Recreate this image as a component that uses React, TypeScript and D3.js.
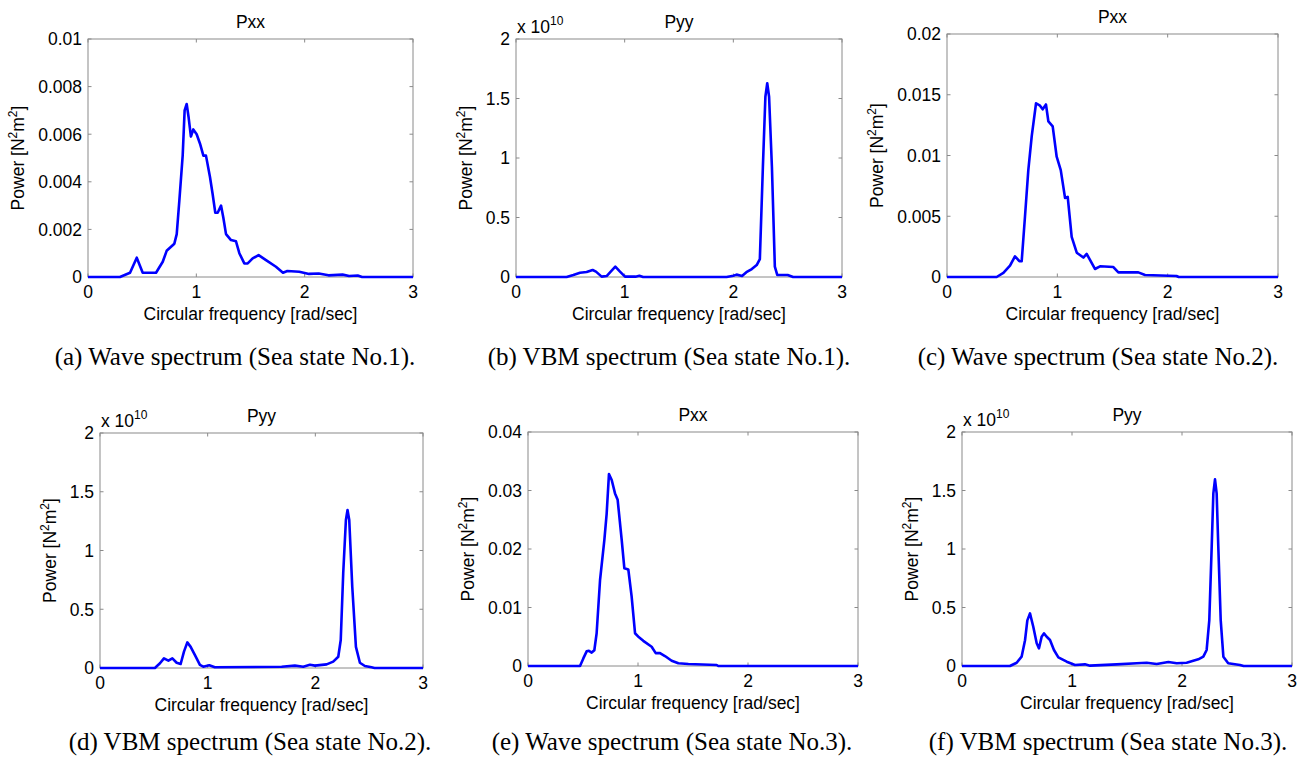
import React from "react";
import * as d3 from "d3";

// ---------- data ----------
const xTicks = [0, 1, 2, 3];

const yTicksA = [0, 0.002, 0.004, 0.006, 0.008, 0.01];
const yTicksC = [0, 0.005, 0.01, 0.015, 0.02];
const yTicksE = [0, 0.01, 0.02, 0.03, 0.04];
const yTicksVBM = [0, 0.5, 1, 1.5, 2];

const titles = ["Pxx", "Pyy", "Pxx", "Pyy", "Pxx", "Pyy"];
const captions = [
  "(a) Wave spectrum (Sea state No.1).",
  "(b) VBM spectrum (Sea state No.1).",
  "(c) Wave spectrum (Sea state No.2).",
  "(d) VBM spectrum (Sea state No.2).",
  "(e) Wave spectrum (Sea state No.3).",
  "(f) VBM spectrum (Sea state No.3).",
];

const freqA = [0, 0.295, 0.388, 0.45, 0.505, 0.628, 0.69, 0.726, 0.797, 0.819, 0.843, 0.874, 0.892, 0.911, 0.929, 0.95, 0.972, 1.003, 1.034, 1.065, 1.089, 1.126, 1.15, 1.175, 1.197, 1.228, 1.249, 1.274, 1.32, 1.366, 1.397, 1.443, 1.474, 1.52, 1.575, 1.643, 1.735, 1.8, 1.84, 1.95, 2.04, 2.13, 2.22, 2.35, 2.41, 2.49, 2.53, 3];
const powerA = [0, 0, 0.00018, 0.00081, 0.00018, 0.00018, 0.00064, 0.0011, 0.0014, 0.0018, 0.0032, 0.0051, 0.007, 0.00727, 0.0067, 0.0059, 0.0062, 0.006, 0.0056, 0.0051, 0.0051, 0.0042, 0.0035, 0.0027, 0.0027, 0.003, 0.0025, 0.0018, 0.00155, 0.0015, 0.001, 0.00057, 0.00057, 0.00078, 0.00092, 0.00071, 0.00043, 0.00018, 0.00025, 0.00022, 0.00013, 0.00015, 0.00007, 0.0001, 0.00004, 0.00006, 0, 0];

// VBM values in units of 1e10
const freqB = [0, 0.466, 0.528, 0.589, 0.65, 0.705, 0.736, 0.788, 0.834, 0.88, 0.914, 0.957, 1.003, 1.1, 1.135, 1.17, 1.938, 2.0, 2.03, 2.08, 2.12, 2.17, 2.215, 2.244, 2.272, 2.295, 2.312, 2.329, 2.355, 2.382, 2.404, 2.5, 2.55, 3];
const powerB = [0, 0, 0.017, 0.036, 0.042, 0.059, 0.045, 0.003, 0.008, 0.053, 0.087, 0.045, 0.003, 0.003, 0.011, 0, 0, 0.011, 0.02, 0.008, 0.04, 0.067, 0.1, 0.15, 0.927, 1.515, 1.628, 1.515, 0.927, 0.087, 0.017, 0.017, 0, 0];

const freqC = [0, 0.45, 0.511, 0.571, 0.616, 0.656, 0.677, 0.707, 0.737, 0.768, 0.807, 0.843, 0.867, 0.897, 0.919, 0.958, 0.994, 1.031, 1.07, 1.094, 1.13, 1.176, 1.236, 1.266, 1.296, 1.341, 1.387, 1.508, 1.553, 1.734, 1.795, 2.08, 2.1, 3];
const powerC = [0, 0, 0.00033, 0.00093, 0.0017, 0.0013, 0.0013, 0.005, 0.0088, 0.0116, 0.0143, 0.0141, 0.0138, 0.0142, 0.0128, 0.0124, 0.0099, 0.0088, 0.0065, 0.0066, 0.0033, 0.002, 0.0016, 0.0019, 0.0014, 0.00066, 0.00088, 0.00082, 0.00038, 0.00038, 0.00016, 0.00008, 0, 0];

const freqD = [0, 0.51, 0.557, 0.594, 0.635, 0.672, 0.712, 0.749, 0.78, 0.811, 0.842, 0.882, 0.928, 0.959, 1.015, 1.067, 1.687, 1.81, 1.888, 1.95, 1.996, 2.105, 2.166, 2.213, 2.236, 2.259, 2.284, 2.299, 2.315, 2.343, 2.377, 2.414, 2.46, 2.522, 2.55, 3];
const powerD = [0, 0, 0.04, 0.082, 0.062, 0.082, 0.045, 0.034, 0.139, 0.218, 0.18, 0.11, 0.026, 0.011, 0.023, 0.006, 0.011, 0.02, 0.011, 0.028, 0.02, 0.031, 0.054, 0.096, 0.238, 0.806, 1.26, 1.345, 1.26, 0.692, 0.18, 0.045, 0.017, 0.006, 0, 0];

const freqE = [0, 0.473, 0.503, 0.533, 0.554, 0.579, 0.603, 0.624, 0.655, 0.694, 0.715, 0.736, 0.761, 0.791, 0.815, 0.852, 0.876, 0.912, 0.942, 0.973, 1.009, 1.048, 1.124, 1.161, 1.2, 1.245, 1.306, 1.367, 1.458, 1.715, 1.73, 3];
const powerE = [0, 0, 0.0013, 0.0025, 0.0026, 0.0023, 0.0027, 0.0056, 0.0147, 0.0215, 0.026, 0.0328, 0.0318, 0.0295, 0.0284, 0.0215, 0.0167, 0.0165, 0.0119, 0.0056, 0.0049, 0.0043, 0.0033, 0.0022, 0.0022, 0.0017, 0.0009, 0.00046, 0.00034, 0.00017, 0, 0];

const freqF = [0, 0.436, 0.497, 0.542, 0.573, 0.594, 0.618, 0.648, 0.679, 0.7, 0.724, 0.745, 0.77, 0.8, 0.836, 0.876, 0.952, 1.027, 1.118, 1.164, 1.406, 1.588, 1.679, 1.77, 1.876, 1.952, 2.042, 2.148, 2.194, 2.224, 2.248, 2.27, 2.285, 2.3, 2.315, 2.33, 2.352, 2.376, 2.42, 2.527, 2.56, 3];
const powerF = [0, 0, 0.028, 0.08, 0.22, 0.39, 0.45, 0.336, 0.194, 0.151, 0.25, 0.279, 0.25, 0.222, 0.137, 0.074, 0.037, 0.009, 0.014, 0.003, 0.014, 0.023, 0.028, 0.017, 0.034, 0.023, 0.028, 0.057, 0.08, 0.137, 0.39, 1.02, 1.476, 1.595, 1.476, 1.02, 0.39, 0.08, 0.023, 0.009, 0, 0];

// ---------- layout ----------
const W = 1306;
const H = 760;
const SANS = "'Liberation Sans', Arial, Helvetica, sans-serif";
const SERIF = "'Liberation Serif', 'Times New Roman', serif";
const FS = 17.5;
const BOX = "#8a8a8a";
const LINE = "#0000ff";

type Panel = {
  left: number; right: number; top: number; bottom: number;
  freq: number[]; power: number[]; yTicks: number[];
  exp: boolean; capX: number; capY: number;
};

const panels: Panel[] = [
  { left: 88, right: 413, top: 39, bottom: 277, freq: freqA, power: powerA, yTicks: yTicksA, exp: false, capX: 235, capY: 365 },
  { left: 516, right: 842, top: 39, bottom: 277, freq: freqB, power: powerB, yTicks: yTicksVBM, exp: true, capX: 669, capY: 365 },
  { left: 947, right: 1278, top: 34, bottom: 277, freq: freqC, power: powerC, yTicks: yTicksC, exp: false, capX: 1098, capY: 365 },
  { left: 100, right: 423, top: 433, bottom: 668, freq: freqD, power: powerD, yTicks: yTicksVBM, exp: true, capX: 250, capY: 750 },
  { left: 528, right: 858, top: 432, bottom: 666, freq: freqE, power: powerE, yTicks: yTicksE, exp: false, capX: 672, capY: 750 },
  { left: 962, right: 1292, top: 432, bottom: 666, freq: freqF, power: powerF, yTicks: yTicksVBM, exp: true, capX: 1108, capY: 750 },
];

const fmt = (v: number) => String(+v.toFixed(6));

function textWidth(s: string) {
  let w = 0;
  for (const c of s) w += c === "." ? 0.278 : 0.556;
  return w * FS;
}

function SpectrumPanel({ p, i }: { p: Panel; i: number }) {
  const x = d3.scaleLinear().domain([0, 3]).range([p.left, p.right]);
  const yMax = p.yTicks[p.yTicks.length - 1];
  const y = d3.scaleLinear().domain([0, yMax]).range([p.bottom, p.top]);
  const pts = d3.zip(p.freq, p.power) as [number, number][];
  const line = d3
    .line<[number, number]>()
    .x((d) => x(d[0]))
    .y((d) => y(d[1]));
  const tl = 3.5;
  const maxLabelW = d3.max(p.yTicks, (t) => textWidth(fmt(t))) || 0;
  const ylabX = p.left - maxLabelW - 20;
  const ylabY = (p.top + p.bottom) / 2;
  const cx = (p.left + p.right) / 2;
  return (
    <g>
      <defs>
        <clipPath id={`clip${i}`}>
          <rect x={p.left} y={p.top - 2} width={p.right - p.left} height={p.bottom - p.top + 4} />
        </clipPath>
      </defs>
      {xTicks.map((t) => (
        <g key={`xt${t}`} stroke={BOX} strokeWidth={1}>
          <line x1={x(t)} x2={x(t)} y1={p.bottom} y2={p.bottom - tl} />
          <line x1={x(t)} x2={x(t)} y1={p.top} y2={p.top + tl} />
        </g>
      ))}
      {p.yTicks.map((t) => (
        <g key={`yt${t}`} stroke={BOX} strokeWidth={1}>
          <line x1={p.left} x2={p.left + tl} y1={y(t)} y2={y(t)} />
          <line x1={p.right} x2={p.right - tl} y1={y(t)} y2={y(t)} />
        </g>
      ))}
      <rect x={p.left} y={p.top} width={p.right - p.left} height={p.bottom - p.top} fill="none" stroke={BOX} strokeWidth={1} />
      <path d={line(pts) || ""} fill="none" stroke={LINE} strokeWidth={2.6} strokeLinejoin="round" clipPath={`url(#clip${i})`} />
      {xTicks.map((t) => (
        <text key={`xl${t}`} x={x(t)} y={p.bottom + 21} textAnchor="middle" fontFamily={SANS} fontSize={FS} fill="#000">
          {fmt(t)}
        </text>
      ))}
      {p.yTicks.map((t) => (
        <text key={`yl${t}`} x={p.left - 6} y={y(t)} dy="0.36em" textAnchor="end" fontFamily={SANS} fontSize={FS} fill="#000">
          {fmt(t)}
        </text>
      ))}
      {p.exp && (
        <text x={p.left + 1} y={p.top - 6} fontFamily={SANS} fontSize={FS} fill="#000">
          x 10
          <tspan dy={-8} fontSize={12}>10</tspan>
        </text>
      )}
      <text x={cx} y={p.top - 11} textAnchor="middle" fontFamily={SANS} fontSize={FS} fill="#000">
        {titles[i]}
      </text>
      <text x={cx} y={p.bottom + 43} textAnchor="middle" fontFamily={SANS} fontSize={FS} fill="#000">
        Circular frequency [rad/sec]
      </text>
      <text
        transform={`translate(${ylabX},${ylabY}) rotate(-90)`}
        textAnchor="middle"
        fontFamily={SANS}
        fontSize={FS}
        fill="#000"
      >
        Power [N<tspan dy={-7} fontSize={12}>2</tspan>
        <tspan dy={7}>m</tspan>
        <tspan dy={-7} fontSize={12}>2</tspan>
        <tspan dy={7}>]</tspan>
      </text>
      <text x={p.capX} y={p.capY} textAnchor="middle" fontFamily={SERIF} fontSize={25} fill="#000">
        {captions[i]}
      </text>
    </g>
  );
}

export default function App() {
  return (
    <svg width={W} height={H} style={{ display: "block", position: "absolute", left: 0, top: 0, background: "#fff" }}>
      <rect x={0} y={0} width={W} height={H} fill="#fff" />
      {panels.map((p, i) => (
        <SpectrumPanel key={i} p={p} i={i} />
      ))}
    </svg>
  );
}
